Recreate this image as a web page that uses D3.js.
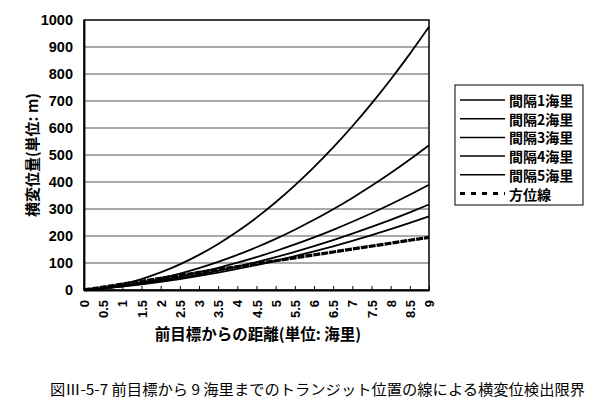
<!DOCTYPE html>
<html><head><meta charset="utf-8">
<script src="https://cdn.jsdelivr.net/npm/d3@7/dist/d3.min.js"></script>
<style>
body{margin:0;background:#fff;}
svg{display:block;}
text{font-family:"Liberation Sans","Noto Sans CJK JP",sans-serif;fill:#000;}
</style></head><body>
<script>
const categories = ["0","0.5","1","1.5","2","2.5","3","3.5","4","4.5","5","5.5","6","6.5","7","7.5","8","8.5","9"];
const seriesNames = ["間隔1海里","間隔2海里","間隔3海里","間隔4海里","間隔5海里","方位線"];
const s1 = [0,8.1,21.7,40.6,65.0,94.8,130,170.6,216.6,268,324.9,387.2,454.9,528,606.5,690.4,779.8,874.5,974.7];
const s2 = [0,6.8,16.2,28.4,43.3,60.9,81.2,104.2,130,158.4,189.5,223.4,259.9,299.2,341.1,385.8,433.2,483.3,536.1];
const s3 = [0,6.3,14.4,24.4,36.1,49.6,65,82.1,101.1,121.8,144.4,168.8,194.9,222.9,252.7,284.3,317.7,352.9,389.9];
const s4 = [0,6.1,13.5,22.3,32.5,44,56.9,71.1,86.6,103.6,121.8,141.5,162.5,184.8,208.5,233.5,259.9,287.7,316.8];
const s5 = [0,6.0,13,21.1,30.3,40.6,52,64.4,78,92.6,108.3,125.1,143,161.9,181.9,203.1,225.3,248.5,272.9];
const bearing = [0,10.8,21.7,32.5,43.3,54.2,65,75.8,86.7,97.5,108.3,119.2,130,140.8,151.7,162.5,173.3,184.2,195];
const yTicks = [0,100,200,300,400,500,600,700,800,900,1000];
const yTitle = "横変位量(単位: m)";
const xTitle = "前目標からの距離(単位: 海里)";
const caption = "図Ⅲ-5-7 前目標から 9 海里までのトランジット位置の線による横変位検出限界";

const W=600,H=411, L=84, R=429, T=20, B=290;
const svg = d3.select("body").append("svg").attr("width",W).attr("height",H);
svg.append("rect").attr("width",W).attr("height",H).attr("fill","#fff");

const x = d3.scalePoint().domain(categories).range([L,R]);
const y = d3.scaleLinear().domain([0,1000]).range([B,T]);

// gridlines
svg.append("g").selectAll("line").data(yTicks.filter(d=>d>0&&d<1000)).join("line")
  .attr("x1",L).attr("x2",R).attr("y1",d=>y(d)).attr("y2",d=>y(d))
  .attr("stroke","#555").attr("stroke-width",1.1);

// plot frame
svg.append("rect").attr("x",L).attr("y",T).attr("width",R-L).attr("height",B-T)
  .attr("fill","none").attr("stroke","#000").attr("stroke-width",1.5);

// y axis
const yAxis = svg.append("g").attr("transform",`translate(${L},0)`)
  .call(d3.axisLeft(y).tickValues(yTicks).tickSize(0).tickPadding(11).tickFormat(d3.format("d")));
yAxis.select(".domain").attr("stroke","#000").attr("stroke-width",1.8);
yAxis.selectAll("text").attr("font-size",14.5).attr("font-weight","bold")
  .style("font-family","'Liberation Sans',sans-serif");

// x axis
const xAxis = svg.append("g").attr("transform",`translate(0,${B})`)
  .call(d3.axisBottom(x).tickSizeInner(-4).tickSizeOuter(0).tickPadding(0));
xAxis.select(".domain").attr("stroke","#000").attr("stroke-width",1.8);
xAxis.selectAll(".tick line").attr("stroke","#000");
xAxis.selectAll("text").attr("font-size",13).attr("font-weight","bold")
  .style("font-family","'Liberation Sans',sans-serif")
  .attr("text-anchor","end").attr("dy","0.35em")
  .attr("transform","translate(0,10) rotate(-90)").attr("x",0).attr("y",0);

// lines
const allSeries = [s1,s2,s3,s4,s5];
const line = d3.line().x((d,i)=>x(categories[i])).y(d=>y(d)).curve(d3.curveMonotoneX);
svg.append("g").selectAll("path").data(allSeries).join("path")
  .attr("d",line).attr("fill","none").attr("stroke","#000").attr("stroke-width",1.8);
svg.append("path").datum(bearing).attr("d",line).attr("fill","none")
  .attr("stroke","#000").attr("stroke-width",3.2).attr("stroke-dasharray","7,1");

// titles
svg.append("text").attr("transform","translate(31,155) rotate(-90)")
  .attr("text-anchor","middle").attr("dominant-baseline","central")
  .attr("font-size",15).attr("font-weight","bold")
  .style("font-family","'Noto Sans CJK JP',sans-serif").text(yTitle);
svg.append("text").attr("x",258).attr("y",333)
  .attr("text-anchor","middle").attr("dominant-baseline","central")
  .attr("font-size",15.5).attr("font-weight","bold")
  .style("font-family","'Noto Sans CJK JP',sans-serif").text(xTitle);

// legend
const lg = svg.append("g");
lg.append("rect").attr("x",455).attr("y",85).attr("width",128).attr("height",120)
  .attr("fill","#fff").attr("stroke","#000").attr("stroke-width",1);
const rows = seriesNames.map((n,i)=>({n,i}));
const ly = d3.scaleLinear().domain([0,5]).range([100,193.5]);
lg.selectAll("line").data(rows).join("line")
  .attr("x1",460).attr("x2",505).attr("y1",d=>ly(d.i)).attr("y2",d=>ly(d.i))
  .attr("stroke","#000").attr("stroke-width",d=>d.i===5?2.8:1.5)
  .attr("stroke-dasharray",d=>d.i===5?"5,6":null);
lg.selectAll("text").data(rows).join("text")
  .attr("x",509).attr("y",d=>ly(d.i)).attr("dominant-baseline","central")
  .attr("font-size",14).attr("font-weight","bold")
  .style("font-family","'Noto Sans CJK JP',sans-serif").text(d=>d.n);

// caption
svg.append("text").attr("x",50).attr("y",388).attr("dominant-baseline","central")
  .attr("font-size",14.5).attr("textLength",535).attr("lengthAdjust","spacingAndGlyphs")
  .style("font-family","'Noto Sans CJK JP',serif").text(caption);
</script></body></html>
